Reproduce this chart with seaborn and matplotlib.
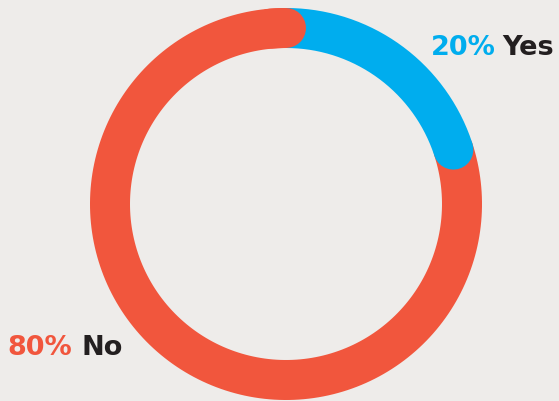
import numpy as np
import pandas as pd
import matplotlib.pyplot as plt
import seaborn as sns

# data
answers = ["Yes", "No"]
shares = [20, 80]
pct_labels = ["20%", "80%"]
colors = {"Yes": "#00ADEE", "No": "#F1563D"}

bg = "#EEECEA"
dark = "#231F20"

sns.set_theme(style="white")
plt.rcParams["font.family"] = ["DejaVu Sans"]

fig = plt.figure(figsize=(5.59, 4.01), dpi=100, facecolor=bg)
ax = fig.add_axes([0, 0, 1, 1])
ax.set_facecolor(bg)

# pixel-like data coords, ring centre at (286, 204)
cx, cy, r = 286, 204, 176
ax.set_xlim(-cx, 559 - cx)
ax.set_ylim(-(401 - cy), cy)
ax.set_aspect("equal")
ax.axis("off")

ring_w = 40 * 72 / 100  # 40 px in points


def arc(start_deg, sweep_deg):
    # clockwise from start angle (degrees, 0 = east)
    t = np.radians(np.linspace(start_deg, start_deg - sweep_deg, 200))
    return pd.DataFrame({"x": r * np.cos(t), "y": r * np.sin(t)})


total = sum(shares)
yes_sweep = shares[0] / total * 360
no_sweep = shares[1] / total * 360

# "No" arc: from top going the long way, ending under the blue cap
no_arc = arc(90 - yes_sweep, no_sweep)
sns.lineplot(data=no_arc, x="x", y="y", sort=False, estimator=None, ax=ax,
             color=colors["No"], linewidth=ring_w, solid_capstyle="round")

# "Yes" arc: from top clockwise
yes_arc = arc(90, yes_sweep)
sns.lineplot(data=yes_arc, x="x", y="y", sort=False, estimator=None, ax=ax,
             color=colors["Yes"], linewidth=ring_w, solid_capstyle="round")

# red rounded cap sits over blue at the top
cap = arc(95, 5)
sns.lineplot(data=cap, x="x", y="y", sort=False, estimator=None, ax=ax,
             color=colors["No"], linewidth=ring_w, solid_capstyle="round")


def px(x, y):
    return x - cx, cy - y


fs = 19.5
ax.text(*px(431, 55), pct_labels[0], color=colors["Yes"], fontsize=fs,
        fontweight="bold", va="baseline", ha="left")
ax.text(*px(502, 55), answers[0], color=dark, fontsize=fs,
        fontweight="bold", va="baseline", ha="left")
ax.text(*px(7, 355), pct_labels[1], color=colors["No"], fontsize=fs,
        fontweight="bold", va="baseline", ha="left")
ax.text(*px(82, 355), answers[1], color=dark, fontsize=fs,
        fontweight="bold", va="baseline", ha="left")

if ax.get_legend():
    ax.get_legend().remove()

fig.savefig("out.png", dpi=100, facecolor=bg)
